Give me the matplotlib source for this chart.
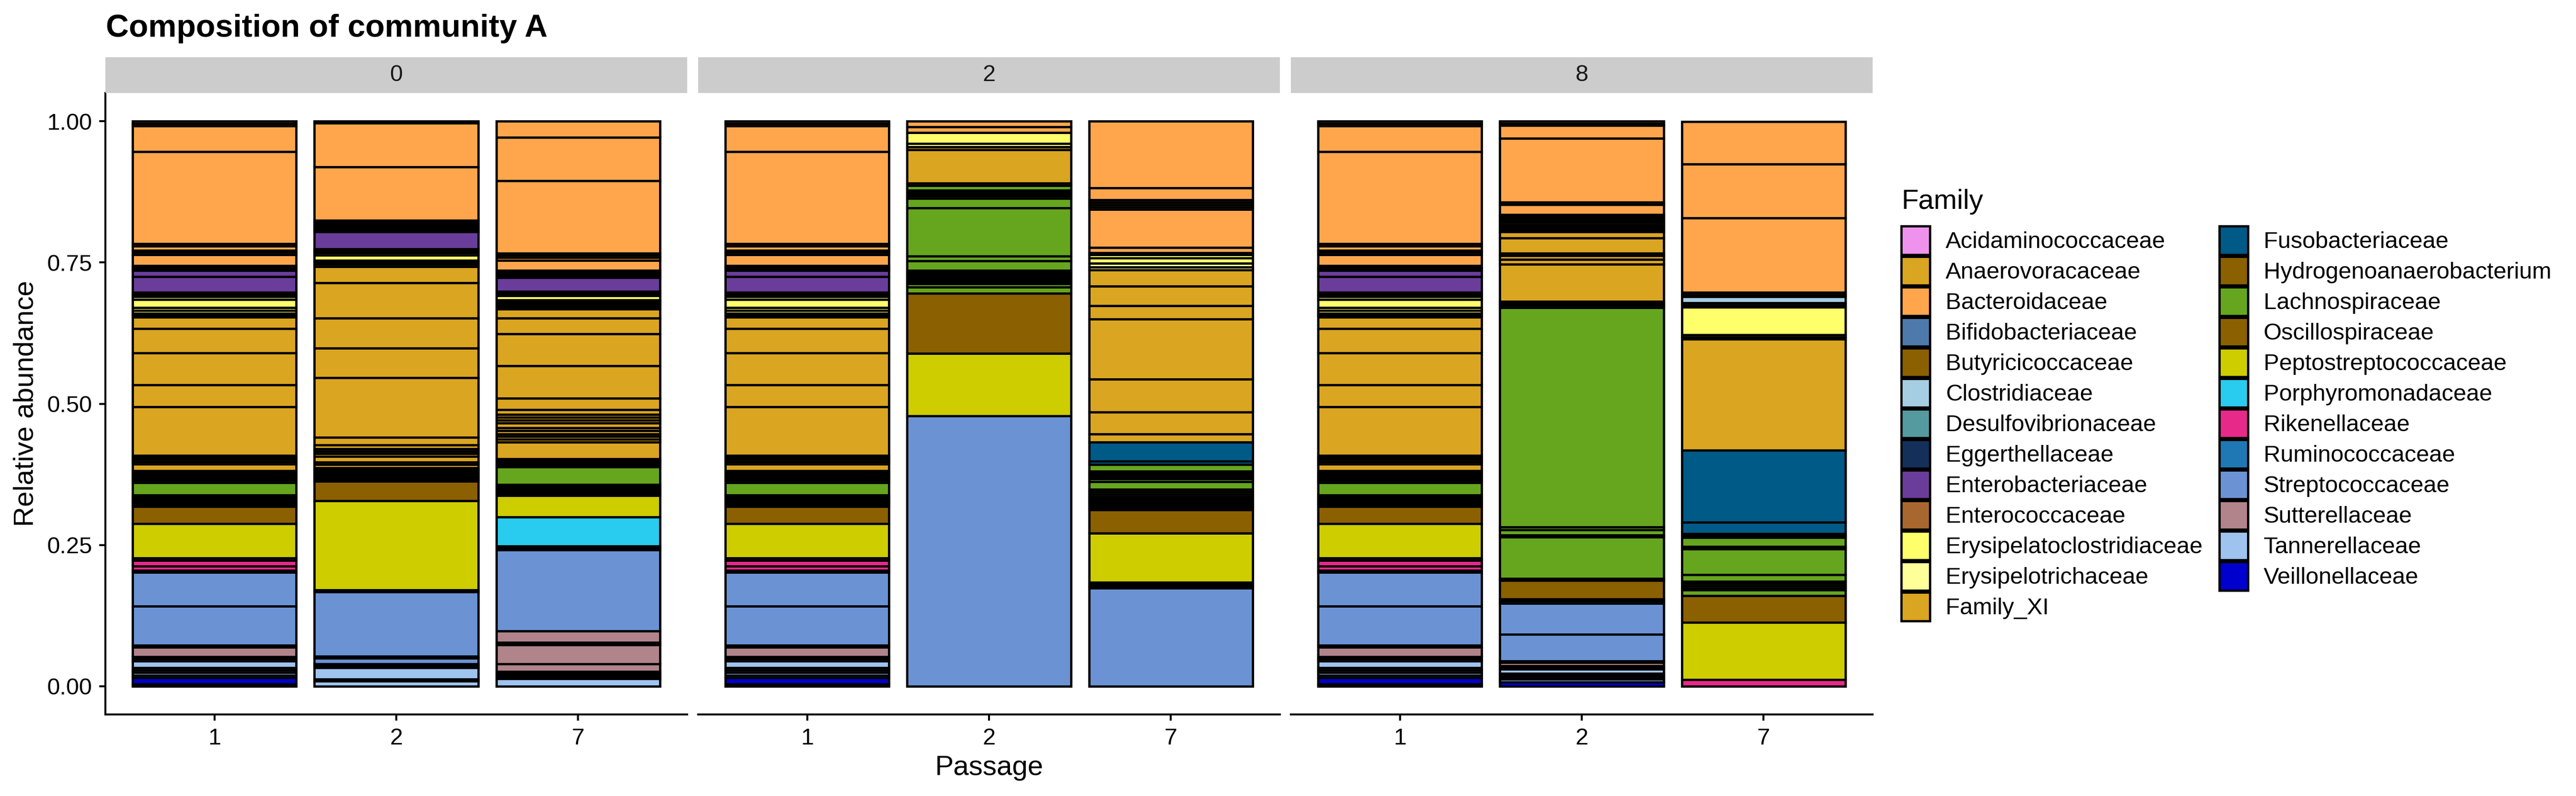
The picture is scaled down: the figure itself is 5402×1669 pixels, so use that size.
import matplotlib
matplotlib.use("Agg")
import matplotlib.pyplot as plt
from matplotlib.patches import Patch

plt.rcParams['font.family'] = ['Liberation Sans', 'DejaVu Sans']

# ---------------- categories ----------------
families = ["Acidaminococcaceae", "Anaerovoracaceae", "Bacteroidaceae", "Bifidobacteriaceae",
            "Butyricicoccaceae", "Clostridiaceae", "Desulfovibrionaceae", "Eggerthellaceae",
            "Enterobacteriaceae", "Enterococcaceae", "Erysipelatoclostridiaceae", "Erysipelotrichaceae",
            "Family_XI", "Fusobacteriaceae", "Hydrogenoanaerobacterium", "Lachnospiraceae",
            "Oscillospiraceae", "Peptostreptococcaceae", "Porphyromonadaceae", "Rikenellaceae",
            "Ruminococcaceae", "Streptococcaceae", "Sutterellaceae", "Tannerellaceae", "Veillonellaceae"]
family_codes = ["Aci", "Ana", "Bac", "Bif", "But", "Clo", "Des", "Egg", "Ent", "Enc", "EryC", "EryT",
                "FXI", "Fus", "Hyd", "Lac", "Osc", "Pep", "Por", "Rik", "Rum", "Str", "Sut", "Tan", "Vei"]
family_colors = ["#EE92EE", "#DAA520", "#FFA64C", "#4E79AB", "#8B6000", "#A6CEE3", "#559A9F", "#14305A",
                 "#6A3D9A", "#A8672E", "#FFFF6B", "#FFFF99", "#DAA520", "#005A87", "#8B6000", "#66A61E",
                 "#8B6000", "#CDCD00", "#29CCEE", "#E7298A", "#1F78B4", "#6B93D4", "#B0848A", "#9FC3EF",
                 "#0000CD"]

passages = ["0", "2", "8"]
samples = ["1", "2", "7"]

# ---------------- relative abundance (%) per taxon, listed top -> bottom ----------------
sample_1 = [("Bac", 0.40), ("Bac", 0.47), ("Bac", 4.52), ("Bac", 16.32), ("Bac", 0.40), ("Bac", 0.74),
            ("Bac", 0.34), ("Bac", 0.40), ("Bac", 1.96),
            ("Bif", 0.27), ("But", 0.27), ("Des", 0.34),
            ("Ent", 1.08), ("Ent", 2.83), ("Ent", 0.34), ("Enc", 0.34),
            ("EryC", 0.54), ("EryC", 1.48), ("EryC", 0.47), ("EryC", 0.47), ("EryT", 0.40),
            ("FXI", 0.34), ("FXI", 1.96), ("FXI", 4.38), ("FXI", 5.60), ("FXI", 3.91), ("FXI", 8.63),
            ("FXI", 0.34), ("FXI", 0.34), ("FXI", 0.40), ("FXI", 0.40), ("FXI", 1.21), ("FXI", 0.34),
            ("FXI", 0.34), ("FXI", 0.34),
            ("Hyd", 0.34),
            ("Lac", 0.34), ("Lac", 0.40), ("Lac", 2.16), ("Lac", 0.34), ("Lac", 0.34), ("Lac", 0.34),
            ("Osc", 0.34), ("Osc", 0.34), ("Osc", 0.34), ("Osc", 3.03),
            ("Pep", 6.14), ("Pep", 0.34),
            ("Rik", 1.08), ("Rik", 0.74),
            ("Rum", 0.34),
            ("Str", 6.00), ("Str", 6.88), ("Str", 0.34),
            ("Sut", 1.69), ("Sut", 0.40), ("Sut", 0.40),
            ("Tan", 1.15), ("Tan", 0.47), ("Tan", 0.40), ("Tan", 0.47), ("Tan", 0.47),
            ("Vei", 1.08), ("Vei", 0.40)]

p0_sample_2 = [("Bac", 0.34), ("Bac", 7.75), ("Bac", 9.51), ("Bac", 0.34), ("Bac", 0.34),
               ("Bif", 0.34), ("But", 0.34), ("Clo", 0.34), ("Egg", 0.27),
               ("Ent", 3.10), ("Enc", 0.34), ("EryC", 0.34), ("EryC", 0.40), ("EryC", 0.94), ("EryT", 0.34),
               ("FXI", 0.34), ("FXI", 0.40), ("FXI", 2.90), ("FXI", 6.20), ("FXI", 5.33), ("FXI", 5.26),
               ("FXI", 10.52), ("FXI", 1.35), ("FXI", 0.67), ("FXI", 0.47), ("FXI", 0.40), ("FXI", 0.47),
               ("FXI", 1.01), ("FXI", 0.47), ("FXI", 0.54), ("FXI", 0.34),
               ("Lac", 0.34), ("Lac", 0.34), ("Lac", 0.34), ("Lac", 0.34), ("Lac", 0.34),
               ("Osc", 0.34), ("Osc", 3.51),
               ("Pep", 15.71), ("Rum", 0.34),
               ("Str", 11.46), ("Str", 0.34), ("Str", 1.01),
               ("Sut", 0.34), ("Sut", 0.34),
               ("Tan", 2.02), ("Tan", 0.34), ("Tan", 0.88)]

p0_sample_7 = [("Bac", 2.83), ("Bac", 7.69), ("Bac", 12.88), ("Bac", 0.34), ("Bac", 0.40), ("Bac", 0.47),
               ("Bac", 1.82),
               ("Bif", 0.34), ("But", 0.27), ("Clo", 0.34), ("Egg", 0.27),
               ("Ent", 2.49), ("Ent", 0.34), ("Enc", 0.40),
               ("EryC", 0.81), ("EryC", 0.34), ("EryC", 0.34), ("EryT", 0.34),
               ("FXI", 0.27), ("FXI", 0.27), ("FXI", 1.62), ("FXI", 2.76), ("FXI", 5.66), ("FXI", 5.73),
               ("FXI", 2.02), ("FXI", 0.88), ("FXI", 0.47), ("FXI", 0.54), ("FXI", 0.54), ("FXI", 0.81),
               ("FXI", 0.54), ("FXI", 0.54), ("FXI", 0.47), ("FXI", 0.47), ("FXI", 0.54), ("FXI", 2.97),
               ("FXI", 0.27), ("FXI", 0.27),
               ("Hyd", 0.27),
               ("Lac", 0.27), ("Lac", 0.34), ("Lac", 3.10), ("Lac", 0.34), ("Lac", 0.27), ("Lac", 0.34),
               ("Lac", 0.34),
               ("Osc", 0.34), ("Osc", 0.34),
               ("Pep", 3.78), ("Por", 5.12), ("Rik", 0.34), ("Rum", 0.34),
               ("Str", 14.36),
               ("Sut", 2.02), ("Sut", 0.40), ("Sut", 3.37), ("Sut", 1.42), ("Sut", 0.34),
               ("Tan", 0.34), ("Tan", 0.27), ("Tan", 0.27), ("Tan", 1.35)]

p2_sample_2 = [("Bac", 1.01), ("Bac", 1.01), ("EryC", 1.96), ("EryT", 0.61),
               ("FXI", 0.47), ("FXI", 5.93), ("FXI", 0.40),
               ("Lac", 0.81), ("Lac", 0.34), ("Lac", 0.34), ("Lac", 0.40), ("Lac", 0.40), ("Lac", 1.69),
               ("Lac", 8.56), ("Lac", 0.81), ("Lac", 1.69), ("Lac", 0.34), ("Lac", 0.34), ("Lac", 0.34),
               ("Lac", 0.34), ("Lac", 0.34), ("Lac", 0.34), ("Lac", 0.34), ("Lac", 0.54), ("Lac", 1.15),
               ("Osc", 10.65), ("Pep", 10.99), ("Str", 47.88)]

p2_sample_7 = [("Bac", 11.80), ("Bac", 2.16), ("Bac", 0.40), ("Bac", 0.40), ("Bac", 0.40), ("Bac", 0.47),
               ("Bac", 6.74), ("Bac", 0.88), ("Bac", 0.34),
               ("EryC", 0.67), ("EryC", 0.88), ("EryT", 0.67), ("EryT", 0.54),
               ("FXI", 2.83), ("FXI", 3.44), ("FXI", 2.43), ("FXI", 10.65), ("FXI", 5.80), ("FXI", 3.91),
               ("FXI", 1.42),
               ("Fus", 3.37), ("Fus", 0.54),
               ("Lac", 1.21), ("Lac", 0.34), ("Lac", 0.34), ("Lac", 0.34), ("Lac", 0.34), ("Lac", 0.47),
               ("Lac", 1.42), ("Lac", 0.40), ("Lac", 0.40), ("Lac", 0.40), ("Lac", 0.34), ("Lac", 0.34),
               ("Lac", 0.34), ("Lac", 0.34),
               ("Osc", 0.34), ("Osc", 0.34), ("Osc", 0.34), ("Osc", 4.11),
               ("Pep", 8.77), ("Pep", 0.34), ("Rik", 0.34), ("Rum", 0.27),
               ("Str", 17.40)]

p8_sample_2 = [("Bac", 0.40), ("Bac", 0.40), ("Bac", 2.23), ("Bac", 11.33), ("Bac", 0.40), ("Bac", 1.82),
               ("Bac", 0.34),
               ("Bif", 0.34), ("But", 0.34), ("Clo", 0.34), ("Des", 0.34), ("Egg", 0.34), ("Ent", 0.34),
               ("EryC", 0.34), ("EryT", 0.27),
               ("FXI", 1.08), ("FXI", 2.76), ("FXI", 0.40), ("FXI", 0.67), ("FXI", 0.88), ("FXI", 6.54),
               ("FXI", 0.34),
               ("Hyd", 0.34),
               ("Lac", 0.47), ("Lac", 38.77), ("Lac", 0.54), ("Lac", 0.88), ("Lac", 0.40), ("Lac", 7.35),
               ("Lac", 0.34),
               ("Osc", 3.30), ("Pep", 0.34), ("Rum", 0.34),
               ("Str", 5.53), ("Str", 4.72), ("Str", 0.27),
               ("Sut", 0.54), ("Sut", 0.27), ("Sut", 0.34),
               ("Tan", 0.81), ("Tan", 0.34), ("Tan", 0.34), ("Tan", 0.34), ("Tan", 0.47),
               ("Vei", 0.74)]

p8_sample_7 = [("Bac", 7.55), ("Bac", 9.51), ("Bac", 13.22), ("Bac", 0.40), ("But", 0.34), ("Clo", 1.08),
               ("Des", 0.40), ("Egg", 0.40),
               ("EryC", 4.86), ("EryC", 0.40), ("EryT", 0.40),
               ("FXI", 19.62), ("Fus", 12.74), ("Fus", 2.02), ("Fus", 0.34), ("Hyd", 0.40),
               ("Lac", 1.55), ("Lac", 0.47), ("Lac", 4.52), ("Lac", 1.21), ("Lac", 0.34), ("Lac", 0.40),
               ("Lac", 0.40), ("Lac", 0.34), ("Lac", 1.08),
               ("Osc", 4.72), ("Pep", 10.11), ("Rik", 1.15)]

composition = {
    ("0", "1"): sample_1, ("0", "2"): p0_sample_2, ("0", "7"): p0_sample_7,
    ("2", "1"): sample_1, ("2", "2"): p2_sample_2, ("2", "7"): p2_sample_7,
    ("8", "1"): sample_1, ("8", "2"): p8_sample_2, ("8", "7"): p8_sample_7,
}

color_of = dict(zip(family_codes, family_colors))

# ---------------- layout ----------------
W, H = 5402, 1669
DPI = 300
fig = plt.figure(figsize=(W / DPI, H / DPI), dpi=DPI)
fig.patch.set_facecolor("white")

def fx(px):
    return px / W

def fy(py):
    return 1 - py / H

panel_left = [221, 1464, 2707]
panel_w = 1220
ax_top, ax_bot = 195, 1498
strip_top = 120

EDGE_LW = 1.15
FS_TICK = 11.7

for pi, passage in enumerate(passages):
    L = panel_left[pi]
    ax = fig.add_axes([fx(L), fy(ax_bot), fx(panel_w), (ax_bot - ax_top) / H])
    for si, sample in enumerate(samples):
        segs = composition[(passage, sample)]
        bottom = 0.0
        for code, val in reversed(segs):
            v = val / 100.0
            ax.bar(si + 1, v, bottom=bottom, width=0.9, color=color_of[code],
                   edgecolor="black", linewidth=EDGE_LW)
            bottom += v
    ax.set_xlim(0.4, 3.6)
    ax.set_ylim(-0.05, 1.05)
    ax.set_xticks([1, 2, 3])
    ax.set_xticklabels(samples)
    for s in ["top", "right"]:
        ax.spines[s].set_visible(False)
    ax.spines["bottom"].set_linewidth(1.0)
    ax.spines["left"].set_linewidth(1.0)
    ax.tick_params(axis="both", length=3.1, width=1.0, pad=3.7, labelsize=FS_TICK,
                   color="black", labelcolor="black")
    if pi == 0:
        ax.set_yticks([0, 0.25, 0.5, 0.75, 1.0])
        ax.set_yticklabels(["0.00", "0.25", "0.50", "0.75", "1.00"])
    else:
        ax.spines["left"].set_visible(False)
        ax.set_yticks([])
    # facet strip
    sax = fig.add_axes([fx(L), fy(ax_top), fx(panel_w), (ax_top - strip_top) / H])
    sax.set_facecolor("#CCCCCC")
    sax.set_xticks([])
    sax.set_yticks([])
    for s in sax.spines.values():
        s.set_visible(False)
    sax.text(0.5, 0.5, passage, ha="center", va="center", fontsize=FS_TICK,
             color="#1A1A1A", transform=sax.transAxes)

# titles
fig.text(fx(222), fy(77), "Composition of community A", ha="left", va="baseline",
         fontsize=16.0, fontweight="bold")
fig.text(fx(55), fy((ax_top + ax_bot) / 2), "Relative abundance", rotation=90,
         ha="center", va="center", fontsize=14)
fig.text(fx((panel_left[0] + panel_left[2] + panel_w) / 2), fy(1610), "Passage",
         ha="center", va="center", fontsize=14)

# legend
fig.text(fx(3987), fy(438), "Family", ha="left", va="baseline", fontsize=14)
handles = [Patch(facecolor=c, edgecolor="black", linewidth=EDGE_LW) for c in family_colors]
fig.legend(handles, families, ncol=2, loc="upper left",
           bbox_to_anchor=(fx(3987), fy(474)), frameon=False, fontsize=FS_TICK,
           borderpad=0, borderaxespad=0, handlelength=1.23, handleheight=1.517,
           handletextpad=0.68, labelspacing=0.082, columnspacing=0.72)

fig.savefig("out.png", dpi=DPI, facecolor="white")
